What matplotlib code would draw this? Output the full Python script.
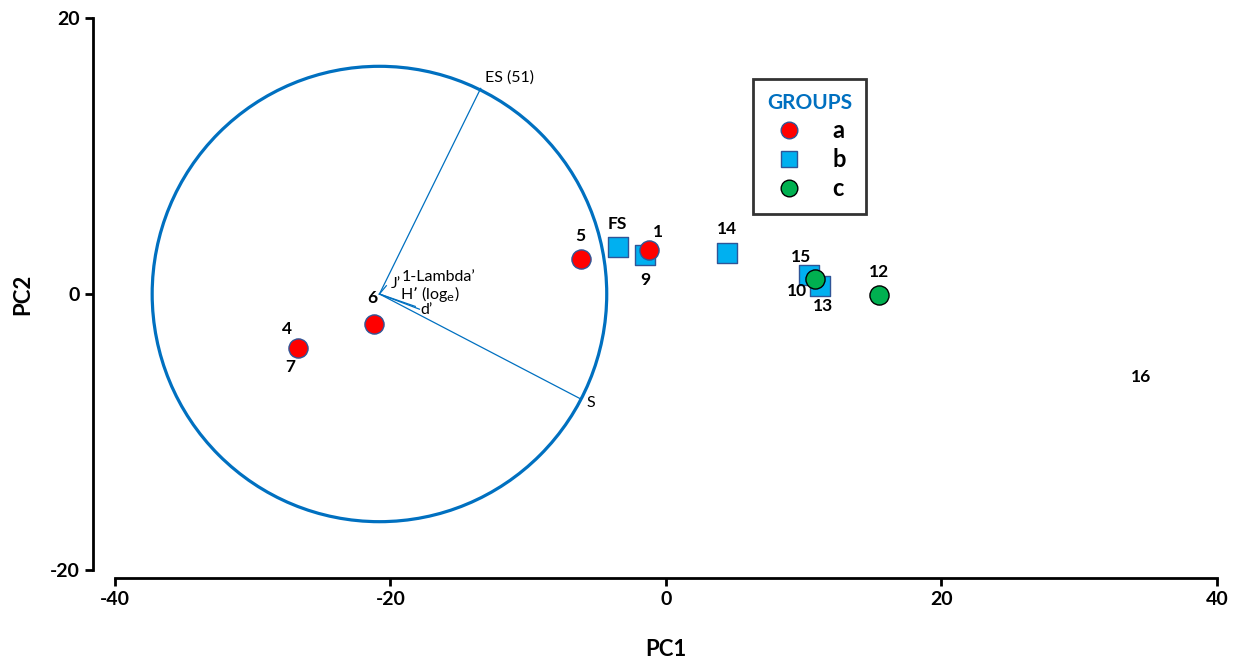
import matplotlib.pyplot as plt
from matplotlib.patches import Circle
from matplotlib.lines import Line2D

plt.rcParams['font.family'] = ['Lato', 'DejaVu Sans']
plt.rcParams['axes.unicode_minus'] = False

# sample scores on the first two principal components
a_labels = ["5", "1", "6", "4"]
a_pc1 = [-6.2, -1.2, -21.2, -26.7]
a_pc2 = [2.5, 3.2, -2.2, -3.9]

b_labels = ["FS", "9", "14", "15", "13"]
b_pc1 = [-3.5, -1.5, 4.4, 10.4, 11.2]
b_pc2 = [3.4, 2.8, 3.0, 1.4, 0.6]

c_labels = ["10", "12"]
c_pc1 = [10.8, 15.5]
c_pc2 = [1.1, -0.1]

# loadings circle and variable vectors
circle_centre = (-20.8, 0.0)
circle_radius = 16.5
vec_names = ["ES (51)", "S", "J\u2019", "d\u2019", "H\u2019"]
vec_dx = [7.35, 14.6, 0.5, 2.9, 2.6]
vec_dy = [14.9, -7.6, 0.6, -1.1, -0.9]

blue = "#0070c0"

fig = plt.figure(figsize=(12.39, 6.62), dpi=100)
ax = fig.add_axes([0.0928, 0.139, 0.8894, 0.8338])
ax.set_xlim(-40, 40)
ax.set_ylim(-20, 20)

ax.add_patch(Circle(circle_centre, circle_radius, fill=False, ec=blue, lw=2.3, zorder=2))
cx, cy = circle_centre
for dx, dy in zip(vec_dx, vec_dy):
    ax.plot([cx, cx + dx], [cy, cy + dy], color=blue, lw=0.9, zorder=2)

txt = dict(fontsize=11.5, color="black")
ax.text(cx + 7.35 + 0.3, 14.9 + 0.3, "ES (51)", ha="left", va="bottom", **txt)
ax.text(cx + 14.6 + 0.4, -7.6 - 0.3, "S", ha="left", va="center", **txt)
ax.text(cx + 0.8, 0.2, "J\u2019", ha="left", va="bottom", **txt)
ax.text(cx + 1.6, 0.75, "1-Lambda\u2019", ha="left", va="bottom", **txt)
ax.text(cx + 1.5, 0.0, "H\u2019 (log$_{\\mathrm{e}}$)", ha="left", va="center", **txt)
ax.text(cx + 3.0, -1.15, "d\u2019", ha="left", va="center", **txt)

ax.scatter(b_pc1, b_pc2, marker="s", s=190, c="#00b0f0", edgecolors="#2f5597", linewidths=1, zorder=3)
ax.scatter(a_pc1, a_pc2, marker="o", s=190, c="#ff0000", edgecolors="#2f5597", linewidths=1, zorder=4)
ax.scatter(c_pc1, c_pc2, marker="o", s=190, c="#00b050", edgecolors="black", linewidths=1, zorder=5)

lab = dict(fontsize=12.5, fontweight="bold", color="black")
# point labels (offsets in data units)
ax.text(-6.2, 3.6, "5", ha="center", va="bottom", **lab)
ax.text(-1.2 + 0.6, 3.9, "1", ha="center", va="bottom", **lab)
ax.text(-3.5, 4.5, "FS", ha="center", va="bottom", **lab)
ax.text(-1.5, 1.6, "9", ha="center", va="top", **lab)
ax.text(4.4, 4.1, "14", ha="center", va="bottom", **lab)
ax.text(9.8, 2.1, "15", ha="center", va="bottom", **lab)
ax.text(9.5, 0.2, "10", ha="center", va="center", **lab)
ax.text(11.4, -0.3, "13", ha="center", va="top", **lab)
ax.text(15.5, 1.0, "12", ha="center", va="bottom", **lab)
ax.text(-21.3, -0.9, "6", ha="center", va="bottom", **lab)
ax.text(-27.5, -3.1, "4", ha="center", va="bottom", **lab)
ax.text(-27.3, -4.7, "7", ha="center", va="top", **lab)
ax.text(34.5, -6.0, "16", ha="center", va="center", **lab)

for side in ["top", "right"]:
    ax.spines[side].set_visible(False)
ax.spines["left"].set_position(("outward", 15.8))
ax.spines["bottom"].set_position(("outward", 5.8))
ax.spines["left"].set_bounds(-20, 20)
ax.spines["bottom"].set_bounds(-40, 40)
for side in ["left", "bottom"]:
    ax.spines[side].set_linewidth(2.0)
ax.set_xticks([-40, -20, 0, 20, 40])
ax.set_yticks([-20, 0, 20])
ax.tick_params(direction="out", length=6, width=2.0, labelsize=14)
for t in ax.get_xticklabels() + ax.get_yticklabels():
    t.set_fontweight("bold")
ax.set_xlabel("PC1", fontsize=16, fontweight="bold", labelpad=22)
ax.set_ylabel("PC2", fontsize=16, fontweight="bold", labelpad=12)

handles = [
    Line2D([], [], ls="", marker="o", ms=12, mfc="#ff0000", mec="#2f5597", label="a"),
    Line2D([], [], ls="", marker="s", ms=12, mfc="#00b0f0", mec="#2f5597", label="b"),
    Line2D([], [], ls="", marker="o", ms=12, mfc="#00b050", mec="black", label="c"),
]
leg = ax.legend(handles=handles, title="GROUPS", loc="upper left",
                bbox_to_anchor=(0.579, 0.8895), borderaxespad=0, frameon=True, fancybox=False,
                edgecolor="black", prop=dict(size=17, weight="bold"),
                handletextpad=1.2, borderpad=0.6, labelspacing=0.25, handlelength=1.3)
leg.get_frame().set_linewidth(2.0)
leg.get_title().set_color(blue)
leg.get_title().set_fontweight("bold")
leg.get_title().set_fontsize(15)
leg._legend_box.align = "center"

fig.savefig("out.png", dpi=100)
